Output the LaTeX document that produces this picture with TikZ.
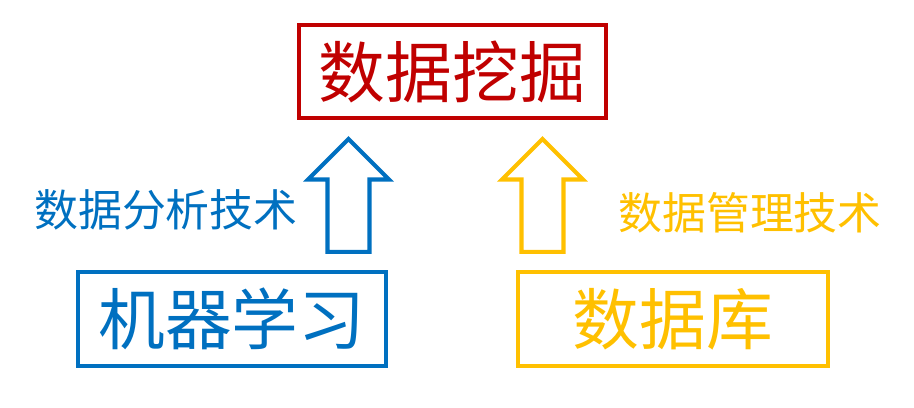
\documentclass[tikz,border=0pt]{standalone}
\usepackage{fontspec}
\newfontfamily\cjk{Noto Sans CJK SC}
\usetikzlibrary{shapes.arrows}
\definecolor{minered}{HTML}{C00000}
\definecolor{mineblue}{HTML}{0070C0}
\definecolor{mineyellow}{HTML}{FFC000}
\begin{document}
\begin{tikzpicture}[x=0.02cm, y=-0.02cm,
        box/.style={draw, line width=2.3pt, inner sep=0pt, font=\cjk\fontsize{38}{38}\selectfont},
        tech/.style={font=\cjk\fontsize{25}{25}\selectfont},
        uparrow/.style={single arrow, draw, line width=2.3pt, shape border rotate=90,
            minimum height=2.26cm, minimum width=1.56cm, single arrow head extend=0.39cm, inner sep=0.38cm}]
        \useasboundingbox (0,0) rectangle (914,408);

        \node[box, minered, minimum width=6.14cm, minimum height=1.86cm] (mining) at (452.5,71.5) {数据挖掘};
        \node[box, mineblue, minimum width=6.16cm, minimum height=1.88cm] (ml) at (232,319) {机器学习};
        \node[box, mineyellow, minimum width=6.2cm, minimum height=1.88cm] (db) at (673,319) {数据库};

        \node[uparrow, mineblue] (mlarrow) at (348.5,206) {};
        \node[uparrow, mineyellow] (dbarrow) at (542.5,206) {};

        \node[tech, mineblue] (analysis) at (166,210) {数据分析技术};
        \node[tech, mineyellow] (manage) at (750,212.5) {数据管理技术};
    \end{tikzpicture}
\end{document}
